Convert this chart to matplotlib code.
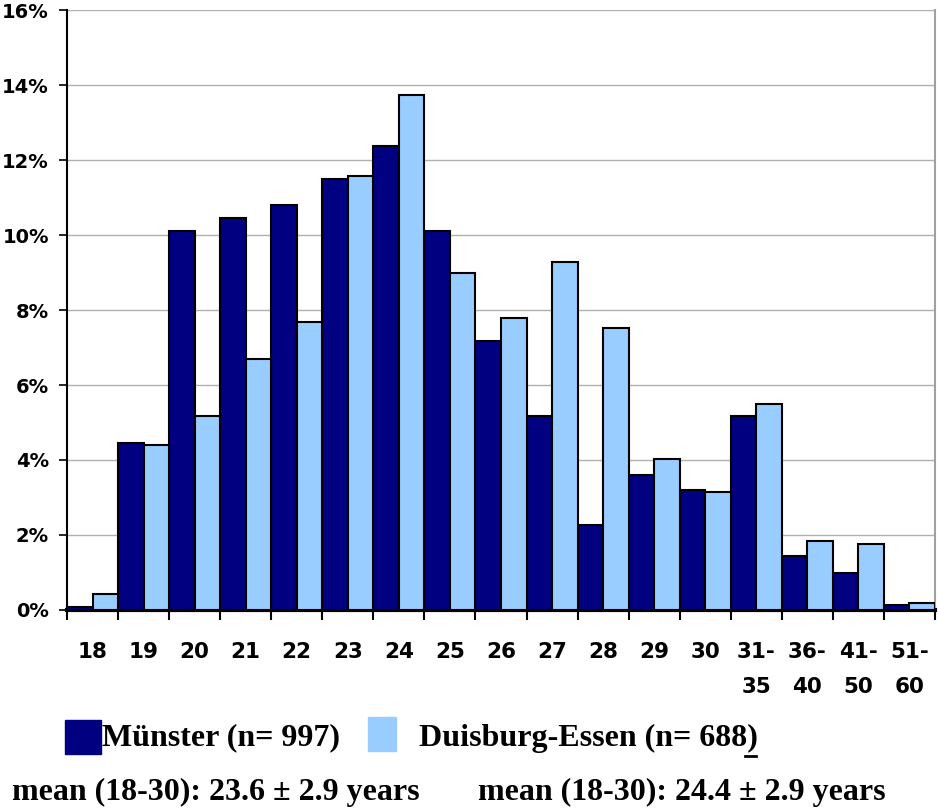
import matplotlib.pyplot as plt
import numpy as np
from matplotlib.patches import Rectangle
from matplotlib.ticker import FuncFormatter

# age groups and share of students (%)
ages = ['18', '19', '20', '21', '22', '23', '24', '25', '26', '27', '28', '29', '30',
        '31-\n35', '36-\n40', '41-\n50', '51-\n60']
muenster = [0.08, 4.45, 10.1, 10.45, 10.8, 11.5, 12.37, 10.1, 7.17, 5.17, 2.27,
            3.6, 3.2, 5.17, 1.44, 0.99, 0.13]
duisburg = [0.43, 4.4, 5.17, 6.7, 7.68, 11.57, 13.73, 8.98, 7.78, 9.28, 7.52,
            4.03, 3.15, 5.5, 1.84, 1.76, 0.18]

dark = '#000080'
light = '#99ccff'

fig = plt.figure(figsize=(9.38, 8.09), dpi=100)
ax = fig.add_axes([0.0714, 0.246, 0.9254, 0.7416])

x = np.arange(len(ages))
ax.bar(x - 0.25, muenster, width=0.5, color=dark, edgecolor='black', linewidth=1.5, zorder=3)
ax.bar(x + 0.25, duisburg, width=0.5, color=light, edgecolor='black', linewidth=1.5, zorder=3)

ax.set_xlim(-0.5, len(ages) - 0.5)
ax.set_ylim(0, 16)
ax.set_yticks(np.arange(0, 17, 2))
ax.yaxis.set_major_formatter(FuncFormatter(lambda v, p: f'{v:.0f}%'))
ax.grid(axis='y', color='#b0b0b0', linewidth=1, zorder=0)

# category boundaries as ticks, labels in between
ax.set_xticks(np.arange(-0.5, len(ages), 1.0))
ax.set_xticklabels([])
ax.set_xticks(x, minor=True)
ax.set_xticklabels(ages, minor=True, fontsize=15.5, fontweight='bold', va='top',
                   linespacing=1.95, family='DejaVu Sans Condensed')
ax.tick_params(axis='x', which='minor', length=0, pad=23)
ax.tick_params(axis='x', which='major', length=7, width=1.5, direction='out')
ax.tick_params(axis='y', length=6, width=1.2, pad=7, labelsize=14)
for lab in ax.get_yticklabels():
    lab.set_fontweight('bold')
    lab.set_family('DejaVu Sans')

ax.spines['top'].set_visible(False)
ax.spines['right'].set_color('#a0a0a0')
ax.spines['right'].set_linewidth(1.5)
ax.spines['bottom'].set_linewidth(3)
ax.spines['left'].set_linewidth(1.5)

# legend drawn by hand
serif = dict(family='Liberation Serif', fontweight='bold', fontsize=23)
fig.patches.append(Rectangle((65 / 938, 1 - 754 / 809), 36 / 938, 34 / 809,
                             transform=fig.transFigure, color=dark))
fig.patches.append(Rectangle((368 / 938, 1 - 751 / 809), 28 / 938, 34 / 809,
                             transform=fig.transFigure, color=light))
fig.text(102 / 938, 1 - 738 / 809, 'Münster (n= 997)', va='center', **serif)
fig.text(419 / 938, 1 - 738 / 809, 'Duisburg-Essen (n= 688)', va='center', **serif)
fig.add_artist(plt.Line2D([745 / 938, 756 / 938], [1 - 756 / 809, 1 - 756 / 809],
                          transform=fig.transFigure, color='black', linewidth=2))
fig.text(12 / 938, 1 - 792 / 809, 'mean (18-30): 23.6 ± 2.9 years', va='center', **serif)
fig.text(478 / 938, 1 - 792 / 809, 'mean (18-30): 24.4 ± 2.9 years', va='center', **serif)

fig.savefig('out.png', dpi=100)
